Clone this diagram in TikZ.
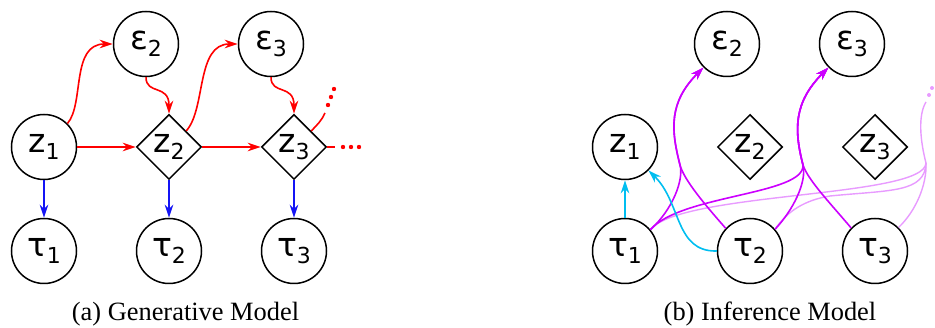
\documentclass[tikz,border=0pt]{standalone}
\usepackage{fontspec}
\usetikzlibrary{arrows.meta,shapes.geometric}
\newfontfamily\labfont{DejaVu Sans}
\newfontfamily\capfont{Liberation Serif}
\definecolor{genred}{RGB}{255,0,0}
\definecolor{genblue}{RGB}{20,20,245}
\definecolor{infcyan}{RGB}{0,190,240}
\definecolor{infpurple}{RGB}{204,0,255}
\definecolor{inflight}{RGB}{232,155,255}
% variable label with a lowered index
\newcommand\varlab[2]{{\labfont\fontsize{33pt}{33pt}\selectfont #1}{\labfont\fontsize{22pt}{22pt}\selectfont\raisebox{-7pt}{#2}}}
\tikzset{
  var/.style={circle, draw, line width=1.5pt, minimum size=65pt, inner sep=0pt},
  det/.style={diamond, aspect=1, draw, line width=1.5pt, minimum size=65pt, inner sep=0pt},
  arr/.style={line width=1.6pt, -{Stealth[length=13pt,width=8.5pt,inset=4pt]}},
  gen/.style={arr, color=genred},
  emit/.style={arr, color=genblue},
  enc/.style={arr, color=infcyan},
  noise/.style={arr, color=infpurple},
  later/.style={line width=1.4pt, color=inflight},
  plain/.style={line width=1.6pt, color=genred},
  caption/.style={font=\capfont\fontsize{26.4pt}{30pt}\selectfont, anchor=base}
}
\begin{document}
\begin{tikzpicture}[x=1pt,y=-1pt]
\path[use as bounding box] (0,0) rectangle (935,328);

% ---------------- generative model ----------------
\node[var] (z1a) at (44,147) {\varlab{z}{1}};
\node[det] (z2a) at (169,147) {\varlab{z}{2}};
\node[det] (z3a) at (294,147) {\varlab{z}{3}};
\node[var] (e2a) at (146,44) {\varlab{ε}{2}};
\node[var] (e3a) at (271,44) {\varlab{ε}{3}};
\node[var] (t1a) at (44,251) {\varlab{τ}{1}};
\node[var] (t2a) at (169,251) {\varlab{τ}{2}};
\node[var] (t3a) at (294,251) {\varlab{τ}{3}};

\draw[gen] (z1a) -- (z2a);
\draw[gen] (z2a) -- (z3a);
\draw[gen] (z1a.45) .. controls +(17,-20) and +(-42,0) .. (e2a.west);
\draw[gen] (z2a.43) .. controls +(20,-22) and +(-42,0) .. (e3a.west);
\draw[gen] (e2a.south) .. controls +(0,18) and +(0,-30) .. (z2a.north);
\draw[gen] (e3a.south) .. controls +(0,18) and +(0,-30) .. (z3a.north);

% continuation beyond z3
\coordinate (z3r) at (335,147);
\coordinate (z3u) at (325,113);
\draw[plain] (z3a.east) -- (z3r);
\draw[plain] (z3a.43) .. controls +(6,-6) and +(-3,7) .. (z3u);
\fill[genred] (343,147) circle (2.2pt) (351,147) circle (2.2pt) (359,147) circle (2.2pt);
\fill[genred] (328,105) circle (2.2pt) (331,97) circle (2.2pt) (334,89) circle (2.2pt);

\draw[emit] (z1a) -- (t1a);
\draw[emit] (z2a) -- (t2a);
\draw[emit] (z3a) -- (t3a);

\node[caption] (capa) at (185.5,321) {(a) Generative Model};

% ---------------- inference model ----------------
\node[var] (z1b) at (625,147) {\varlab{z}{1}};
\node[det] (z2b) at (750,147) {\varlab{z}{2}};
\node[det] (z3b) at (875,147) {\varlab{z}{3}};
\node[var] (e2b) at (727,44) {\varlab{ε}{2}};
\node[var] (e3b) at (852,44) {\varlab{ε}{3}};
\node[var] (t1b) at (625,251) {\varlab{τ}{1}};
\node[var] (t2b) at (750,251) {\varlab{τ}{2}};
\node[var] (t3b) at (875,251) {\varlab{τ}{3}};

% points where the incoming curves join
\coordinate (h2) at (680,165);
\coordinate (h3) at (803,165);
\coordinate (h4) at (926,163);
\coordinate (h4top) at (926,102);
\coordinate (m24) at (830,196);

% paths towards the next noise variable (faded)
\draw[later] (t1b.40) .. controls +(30,-38) and +(-1,35) .. (h4);
\draw[later] (t2b.41) .. controls +(12,-18) and +(-25,4) .. (m24)
                      .. controls +(60,-6) and +(-1,30) .. (h4);
\draw[later] (t3b.45) .. controls +(17,-16) and +(1,22) .. (h4);
\draw[later] (h4) .. controls +(-6,-23) and +(-8,13) .. (h4top);
\fill[inflight] (929,95) circle (2pt) (932,88) circle (2pt);

% noise inference
\draw[noise] (t1b.40) .. controls +(22,-20) and +(4,15) .. (h2)
             .. controls +(-9,-35) and +(-35,35) .. (e2b.225);
\draw[noise] (t2b.137) .. controls +(-21,-24) and +(4,15) .. (h2)
             .. controls +(-9,-35) and +(-35,35) .. (e2b.225);
\draw[noise] (t1b.40) .. controls +(30,-35) and +(2,30) .. (h3)
             .. controls +(-9,-35) and +(-35,35) .. (e3b.225);
\draw[noise] (t2b.41) .. controls +(18,-19) and +(4,17) .. (h3)
             .. controls +(-9,-35) and +(-35,35) .. (e3b.225);
\draw[noise] (t3b.136) .. controls +(-22,-26) and +(5,15) .. (h3)
             .. controls +(-9,-35) and +(-35,35) .. (e3b.225);

% initial state inference
\draw[enc] (t1b) -- (z1b);
\draw[enc] (t2b.west) .. controls +(-42,1) and +(33,32) .. (z1b.-45);

\node[caption] (capb) at (770,321) {(b) Inference Model};
\end{tikzpicture}
\end{document}
